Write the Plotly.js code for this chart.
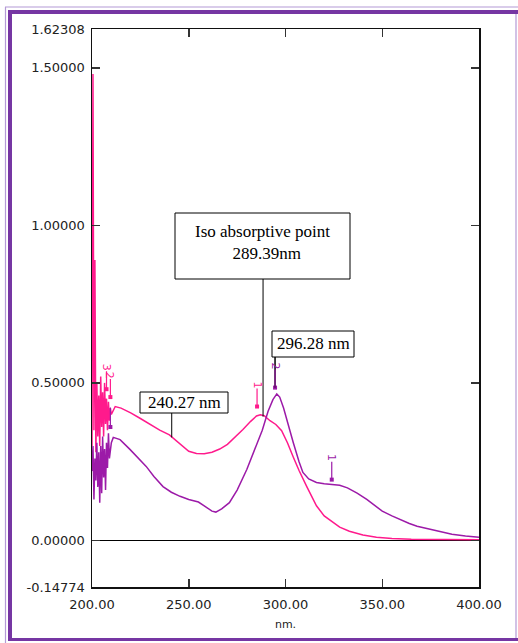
<!DOCTYPE html>
<html>
<head>
<meta charset="utf-8">
<script src="https://cdn.plot.ly/plotly-3.0.1.min.js"></script>
<style>html,body{margin:0;padding:0;background:#fff;}#chart{width:518px;height:643px;}</style>
</head>
<body>
<div id="chart"></div>
<script>
// Wavelengths (nm) and absorbance, series 1 (pink)
const pinkX = [200.0,200.5,201.0,201.5,202.0,202.5,203.0,203.5,204.0,204.5,205.0,205.5,206.0,206.5,207.0,207.5,208.0,208.5,209.0,209.5,210.0,
  212,215,220,225,230,235,240,243,246,250,254,258,262,266,270,274,278,282,285,287,289,292,295,298,301,304,307,311,313,316,320,324.5,328,333,340,347,355,365,380,400];
const pinkY = [0.30,1.48,0.35,0.89,0.28,0.50,0.33,0.46,0.30,0.52,0.36,0.47,0.33,0.50,0.37,0.45,0.35,0.44,0.38,0.42,0.40,
  0.425,0.42,0.405,0.387,0.368,0.35,0.335,0.32,0.303,0.283,0.276,0.275,0.28,0.29,0.305,0.327,0.352,0.378,0.395,0.399,0.396,0.38,0.368,0.348,0.31,0.265,0.222,0.171,0.145,0.11,0.078,0.057,0.042,0.029,0.017,0.01,0.006,0.004,0.003,0.002];

// Series 2 (purple)
const purpleX = [200.0,200.5,201.0,201.5,202.0,202.5,203.0,203.5,204.0,204.5,205.0,205.5,206.0,206.5,207.0,207.5,208.0,208.5,209.0,209.5,210.0,
  211,214.5,219.6,224,228,232,236.7,241,245.5,250,255,258,262,264,267,271,275,280,284,288,291,293.5,295.5,297,299,301,304,307,309,312,316,320,324.5,328,332,337,342,346,350,355,359,364,368,376,386,393,400];
const purpleY = [0.22,0.30,0.13,0.26,0.19,0.31,0.17,0.28,0.12,0.30,0.15,0.33,0.20,0.29,0.16,0.31,0.23,0.34,0.26,0.30,0.31,
  0.327,0.32,0.289,0.262,0.235,0.203,0.171,0.153,0.14,0.13,0.122,0.11,0.093,0.09,0.10,0.12,0.16,0.225,0.29,0.35,0.41,0.447,0.465,0.455,0.42,0.375,0.311,0.25,0.216,0.195,0.184,0.18,0.178,0.175,0.167,0.15,0.13,0.11,0.093,0.078,0.067,0.054,0.045,0.034,0.02,0.014,0.01];

// Peak-pick markers
const pinkPeakX = [207.5, 209.5, 285.3];
const pinkPeakY = [0.48, 0.455, 0.425];
const pinkPeakLabels = ['3', '2', '1'];
const purplePeakX = [209.5, 294.6, 323.9];
const purplePeakY = [0.36, 0.485, 0.193];
const purplePeakLabels = ['', '2', '1'];

// Callout texts and the points they mark (nm, absorbance)
const calloutText = ['Iso absorptive point<br>&nbsp;&nbsp;289.39nm', '240.27 nm', '296.28 nm'];
const calloutPointX = [288.4, 241.2, 294.6];
const calloutPointY = [0.393, 0.327, 0.485];

// Axis ticks
const xTickVals = [200, 250, 300, 350, 400];
const xTickText = ['200.00', '250.00', '300.00', '350.00', '400.00'];
const yTickVals = [-0.14774, 0, 0.5, 1.0, 1.5, 1.62308];
const yTickText = ['-0.14774', '0.00000', '0.50000', '1.00000', '1.50000', '1.62308'];

const PINK = '#ff1a8c', PURPLE = '#9c1aa8';

const traces = [
  {x: pinkX, y: pinkY, type: 'scatter', mode: 'lines', line: {color: PINK, width: 1.5}, hoverinfo: 'skip'},
  {x: purpleX, y: purpleY, type: 'scatter', mode: 'lines', line: {color: PURPLE, width: 1.5}, hoverinfo: 'skip'},
  {x: pinkPeakX, y: pinkPeakY, type: 'scatter', mode: 'markers', marker: {symbol: 'square', size: 4, color: PINK}},
  {x: purplePeakX, y: purplePeakY, type: 'scatter', mode: 'markers', marker: {symbol: 'square', size: 4, color: PURPLE}}
];

// plot-area pixel helpers
const L = 92, T = 29, W = 387, H = 558;
const YMIN = -0.14774, YMAX = 1.62308;
const px = v => (v - L) / W, py = v => (T + H - v) / H;
const pyData = v => py(v) * (YMAX - YMIN) + YMIN;

const annotations = [];
const shapes = [];

// callout boxes: [left, top, right, bottom px, text centre y px]
const boxGeom = [[175, 213, 350, 279, 242], [140, 392, 228, 413, 402.5], [272, 331, 354, 357, 344]];
calloutText.forEach((t, i) => {
  const g = boxGeom[i];
  shapes.push({type: 'rect', xref: 'paper', yref: 'paper', x0: px(g[0]), x1: px(g[2]), y0: py(g[1]), y1: py(g[3]),
    fillcolor: '#fff', line: {color: '#000', width: 1}, layer: 'above'});
  shapes.push({type: 'line', xref: 'x', yref: 'y', x0: calloutPointX[i], x1: calloutPointX[i],
    y0: calloutPointY[i], y1: pyData(g[3]), line: {color: '#000', width: i === 2 ? 1.5 : 1}, layer: 'above'});
  annotations.push({x: px((g[0] + g[2]) / 2), y: py(g[4]), xref: 'paper', yref: 'paper', xanchor: 'center', yanchor: 'middle',
    text: t, showarrow: false, align: 'center', borderpad: 0,
    font: {family: 'Liberation Serif', size: 17, color: '#000'}});
});

pinkPeakX.forEach((x, i) => annotations.push({x: x, y: pinkPeakY[i], xref: 'x', yref: 'y', text: pinkPeakLabels[i] || ' ',
  showarrow: true, arrowhead: 0, arrowwidth: 1.2, arrowcolor: PINK, ax: 0, ay: -22, textangle: 90,
  font: {family: 'DejaVu Sans', size: 11, color: PINK}, borderpad: 0}));
purplePeakX.forEach((x, i) => annotations.push({x: x, y: purplePeakY[i], xref: 'x', yref: 'y', text: purplePeakLabels[i] || ' ',
  showarrow: true, arrowhead: 0, arrowwidth: 1.2, arrowcolor: PURPLE, ax: 0, ay: -22, textangle: 90,
  font: {family: 'DejaVu Sans', size: 11, color: PURPLE}, borderpad: 0}));

const layout = {
  width: 518, height: 643,
  margin: {l: 92, r: 39, t: 29, b: 56},
  paper_bgcolor: '#fff', plot_bgcolor: '#fff',
  showlegend: false,
  xaxis: {range: [200, 400], tickvals: xTickVals, ticktext: xTickText, ticks: 'inside', ticklen: 8, tickwidth: 1.5, tickcolor: '#333',
    showline: true, linecolor: '#111', linewidth: 1.5, mirror: 'ticks', showgrid: false, zeroline: false,
    tickfont: {family: 'DejaVu Sans', size: 13, color: '#222'}, ticklabelstandoff: 5,
    title: {text: 'nm.', font: {family: 'DejaVu Sans', size: 11, color: '#222'}, standoff: 9}},
  yaxis: {range: [YMIN, YMAX], tickvals: yTickVals, ticktext: yTickText, ticks: 'inside', ticklen: 8, tickwidth: 1.5, tickcolor: '#333',
    showline: true, linecolor: '#111', linewidth: 1.5, mirror: 'ticks', showgrid: false,
    zeroline: true, zerolinecolor: '#000', zerolinewidth: 1,
    tickfont: {family: 'DejaVu Sans', size: 13, color: '#222'}, ticklabelstandoff: 3},
  annotations: annotations,
  shapes: shapes
};

// purple frame (paper coords from pixel positions)
const frameThick = '#7636a3', frameThin = '#b49ad6';
[[8, 10, 518, 14], [8, 10, 12, 641], [8, 638, 518, 641]].forEach(r => shapes.push({type: 'rect', xref: 'paper', yref: 'paper',
  x0: px(r[0]), x1: px(r[2]), y0: py(r[1]), y1: py(r[3]), fillcolor: frameThick, line: {width: 0}, layer: 'above'}));
[[5, 7, 518, 7], [5.5, 7, 5.5, 643], [516, 14, 516, 638]].forEach(r => shapes.push({type: 'line', xref: 'paper', yref: 'paper',
  x0: px(r[0]), x1: px(r[2]), y0: py(r[1]), y1: py(r[3]), line: {color: frameThin, width: 1.2}, layer: 'above'}));

Plotly.newPlot('chart', traces, layout, {staticPlot: true, displayModeBar: false});
</script>
</body>
</html>
